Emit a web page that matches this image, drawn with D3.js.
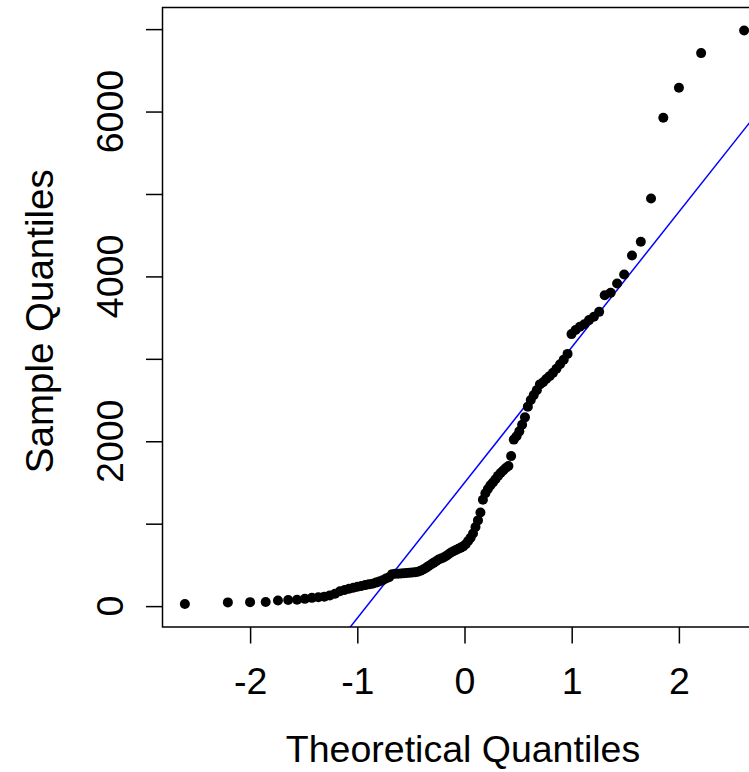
<!DOCTYPE html>
<html><head><meta charset="utf-8">
<script src="https://cdn.jsdelivr.net/npm/d3@7"></script>
<style>body{margin:0;background:#fff} svg{display:block}</style>
</head><body>
<svg id="chart" width="749" height="772"></svg>
<script>
// Sorted sample values
const sampleValues = [
  25, 45, 48, 50, 68, 75, 78, 88, 100, 108,
  115, 130, 150, 180, 195, 212, 222, 235, 245, 255,
  264, 272, 285, 300, 315, 335, 350, 388, 392, 394,
  396, 398, 401, 404, 407, 411, 418, 430, 445, 462,
  485, 505, 525, 545, 565, 578, 590, 608, 630, 650,
  665, 680, 695, 710, 725, 750, 790, 830, 880, 960,
  1040, 1135, 1290, 1370, 1420, 1465, 1500, 1540, 1580, 1615,
  1645, 1675, 1700, 1820, 2020, 2060, 2120, 2200, 2290, 2420,
  2500, 2560, 2620, 2690, 2715, 2755, 2790, 2830, 2880, 2935,
  2990, 3060, 3300, 3350, 3390, 3420, 3470, 3510, 3570, 3772,
  3801, 3914, 4023, 4254, 4420, 4946, 5925, 6289, 6709, 6984
];
const xTickValues = [-2, -1, 0, 1, 2];
const yTickValues = [0, 1000, 2000, 3000, 4000, 5000, 6000, 7000];
const yLabelValues = [0, 2000, 4000, 6000];
const xTitle = "Theoretical Quantiles";
const yTitle = "Sample Quantiles";

(function () {
// inverse normal CDF (Acklam) for theoretical quantiles, as qqnorm does
function qnorm(p) {
  const a = [-3.969683028665376e+01, 2.209460984245205e+02, -2.759285104469687e+02, 1.383577518672690e+02, -3.066479806614716e+01, 2.506628277459239e+00];
  const b = [-5.447609879822406e+01, 1.615858368580409e+02, -1.556989798598866e+02, 6.680131188771972e+01, -1.328068155288572e+01];
  const c = [-7.784894002430293e-03, -3.223964580411365e-01, -2.400758277161838e+00, -2.549732539343734e+00, 4.374664141464968e+00, 2.938163982698783e+00];
  const d = [7.784695709041462e-03, 3.224671290700398e-01, 2.445134137142996e+00, 3.754408661907416e+00];
  const pl = 0.02425, ph = 1 - pl;
  let q, r;
  if (p < pl) { q = Math.sqrt(-2 * Math.log(p)); return (((((c[0]*q+c[1])*q+c[2])*q+c[3])*q+c[4])*q+c[5]) / ((((d[0]*q+d[1])*q+d[2])*q+d[3])*q+1); }
  if (p <= ph) { q = p - 0.5; r = q*q; return (((((a[0]*r+a[1])*r+a[2])*r+a[3])*r+a[4])*r+a[5])*q / (((((b[0]*r+b[1])*r+b[2])*r+b[3])*r+b[4])*r+1); }
  q = Math.sqrt(-2 * Math.log(1 - p));
  return -(((((c[0]*q+c[1])*q+c[2])*q+c[3])*q+c[4])*q+c[5]) / ((((d[0]*q+d[1])*q+d[2])*q+d[3])*q+1);
}
const n = sampleValues.length;
const aP = n <= 10 ? 3/8 : 0.5;
const points = sampleValues.map((v, i) => ({ x: qnorm((i + 1 - aP) / (n + 1 - 2*aP)), y: v }));

const svg = d3.select("#chart");
const pL = 162.5, pT = 7.5, pR = 766.5, pB = 627;
const font = "'Liberation Sans', Arial, Helvetica, sans-serif";

function padded(ext) { const r = ext[1] - ext[0]; return [ext[0] - 0.04*r, ext[1] + 0.04*r]; }
const x = d3.scaleLinear().domain(padded(d3.extent(points, d => d.x))).range([pL, pR]);
const y = d3.scaleLinear().domain(padded(d3.extent(points, d => d.y))).range([pB, pT]);

svg.append("defs").append("clipPath").attr("id", "clip")
  .append("rect").attr("x", pL).attr("y", pT).attr("width", pR - pL).attr("height", pB - pT);

// qqline through the quartiles
const sorted = sampleValues.slice().sort(d3.ascending);
const yq = [d3.quantile(sorted, 0.25), d3.quantile(sorted, 0.75)];
const xq = [qnorm(0.25), qnorm(0.75)];
const slope = (yq[1] - yq[0]) / (xq[1] - xq[0]);
const intercept = yq[0] - slope * xq[0];
const xd = x.domain();
svg.append("line").attr("clip-path", "url(#clip)")
  .attr("x1", x(xd[0] - 1)).attr("y1", y(intercept + slope * (xd[0] - 1)))
  .attr("x2", x(xd[1] + 1)).attr("y2", y(intercept + slope * (xd[1] + 1)))
  .attr("stroke", "#0000ff").attr("stroke-width", 1.5);

// points
svg.append("g").selectAll("circle").data(points).join("circle")
  .attr("cx", d => x(d.x)).attr("cy", d => y(d.y)).attr("r", 5).attr("fill", "#000");

// box
svg.append("rect").attr("x", pL).attr("y", pT).attr("width", pR - pL).attr("height", pB - pT)
  .attr("fill", "none").attr("stroke", "#000").attr("stroke-width", 1.5);

// x axis
const xAxis = d3.axisBottom(x).tickValues(xTickValues).tickSize(16.5).tickPadding(24).tickFormat(d3.format("d"));
const gx = svg.append("g").attr("transform", `translate(0,${pB})`).call(xAxis);
gx.select(".domain").remove();
gx.selectAll(".tick line").attr("stroke", "#000").attr("stroke-width", 1.5);
gx.selectAll(".tick text").attr("font-family", font).attr("font-size", 37.5).attr("fill", "#000")
  .text(d => d < 0 ? "-" + Math.abs(d) : String(d));

// y axis
const yAxis = d3.axisLeft(y).tickValues(yTickValues).tickSize(16.5).tickFormat("");
const gy = svg.append("g").attr("transform", `translate(${pL},0)`).call(yAxis);
gy.select(".domain").remove();
gy.selectAll(".tick line").attr("stroke", "#000").attr("stroke-width", 1.5);
svg.append("g").selectAll("text").data(yLabelValues).join("text")
  .attr("transform", d => `translate(123,${y(d)}) rotate(-90)`)
  .attr("text-anchor", "middle").attr("font-family", font).attr("font-size", 37.5).attr("fill", "#000")
  .text(d => String(d));

// titles
svg.append("text").attr("x", 463).attr("y", 762).attr("text-anchor", "middle")
  .attr("font-family", font).attr("font-size", 37.5).attr("fill", "#000").text(xTitle);
svg.append("text").attr("transform", `translate(53,${(pT + pB) / 2 + 4}) rotate(-90)`).attr("text-anchor", "middle")
  .attr("font-family", font).attr("font-size", 38.5).attr("fill", "#000").text(yTitle);
})();
</script>
</body></html>
